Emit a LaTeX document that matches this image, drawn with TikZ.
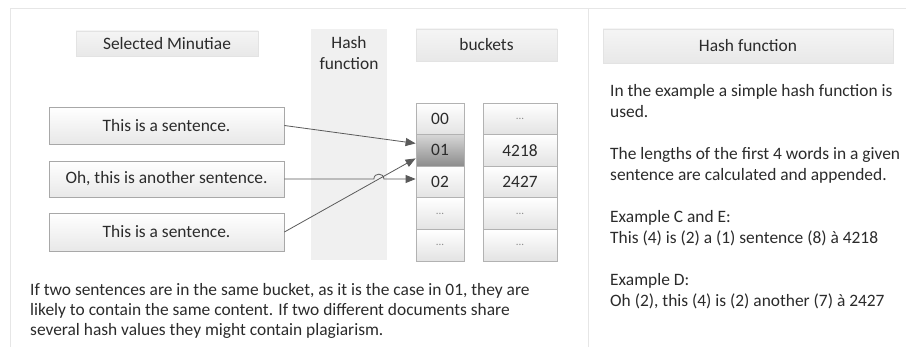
\documentclass[tikz,border=0pt]{standalone}
\usepackage{fontspec}
\setmainfont{Carlito}
\usetikzlibrary{arrows.meta,calc}

\definecolor{ink}{HTML}{2B2B2B}
\definecolor{rule}{HTML}{E6E6E6}
\definecolor{edge}{HTML}{A8A8A8}
\definecolor{wire}{HTML}{5A5A5A}

\tikzset{
  body/.style={font=\fontsize{17.4}{21}\selectfont, text=ink},
  header/.style={body, top color=white!96!black, bottom color=white!91!black,
    draw=white!89!black, line width=0.5pt, inner sep=0pt},
  sentence/.style={body, top color=white, bottom color=white!91!black,
    draw=edge, line width=0.8pt, minimum width=235pt, inner sep=0pt},
  cell/.style={body, top color=white, bottom color=white!89!black,
    draw=white!70!black, line width=0.8pt, minimum height=31.6pt, inner sep=0pt},
  hot/.style={cell, top color=white!84!black, bottom color=white!55!black},
  line/.style={body, anchor=west, text height=12pt, text depth=4pt, inner sep=0pt},
  conn/.style={draw=wire, line width=0.8pt, -{Triangle[length=10pt,width=8pt]}}
}

\newcommand{\gapdots}{\textcolor{white!55!black}{\fontsize{11}{12}\selectfont ...}}

\begin{document}
\begin{tikzpicture}[x=1pt,y=-1pt]
\useasboundingbox (0,0) rectangle (906,347);
\fill[white] (0,0) rectangle (906,347);

% page frame and column divider
\draw[rule, line width=1pt] (906,9) -- (10,9) -- (10,347);
\draw[rule, line width=1pt] (588,9) -- (588,347);

% column headers
\node[header, minimum width=182pt, minimum height=25pt] (hsel) at (167,43.5) {Selected Minutiae};
\node[header, minimum width=141pt, minimum height=32pt] (hbkt) at (486.5,45) {buckets};
\node[header, minimum width=290pt, minimum height=34pt] (hhash) at (748,46) {Hash function};

% hash function band
\node[fill=white!94!black, minimum width=76pt, minimum height=231pt, inner sep=0pt] (band) at (349,144.5) {};
\node[body, align=center, inner sep=0pt] (bandlbl) at (349,53) {Hash\\function};

% input sentences
\node[sentence, minimum height=37pt] (s1) at (166.5,125.5) {This is a sentence.};
\node[sentence, minimum height=36pt] (s2) at (166.5,179) {Oh, this is another sentence.};
\node[sentence, minimum height=38pt] (s3) at (166.5,232) {This is a sentence.};

% bucket keys
\node[cell, minimum width=48pt] (k0) at (440,118.8) {00};
\node[hot,  minimum width=48pt] (k1) at (440,150.4) {01};
\node[cell, minimum width=48pt] (k2) at (440,182.0) {02};
\node[cell, minimum width=48pt] (k3) at (440,213.6) {\gapdots};
\node[cell, minimum width=48pt] (k4) at (440,245.2) {\gapdots};

% bucket values
\node[cell, minimum width=74pt] (v0) at (520,118.8) {\gapdots};
\node[cell, minimum width=74pt] (v1) at (520,150.4) {4218};
\node[cell, minimum width=74pt] (v2) at (520,182.0) {2427};
\node[cell, minimum width=74pt] (v3) at (520,213.6) {\gapdots};
\node[cell, minimum width=74pt] (v4) at (520,245.2) {\gapdots};

% hashing connectors
\coordinate (k1hi) at ($(k1.west)+(0,-7)$);
\coordinate (k1lo) at ($(k1.west)+(0,8)$);
\coordinate (k2in) at (s2.east -| k2.west);
\draw[conn] (s1.east) -- (k1hi);
\draw[conn] (s3.east) -- (k1lo);
\coordinate (cross) at (intersection of s3.east--k1lo and s2.east--k2in);
\draw[conn] (s2.east) -- ($(cross)+(-5,0)$)
  .. controls +(0,-6.5) and +(0,-6.5) .. ($(cross)+(5,0)$) -- (k2in);

% note under the diagram
\node[line] (n1) at (30,292) {If two sentences are in the same bucket, as it is the case in 01, they are};
\node[line] (n2) at (30,312) {likely to contain the same content. If two different documents share};
\node[line] (n3) at (30,332) {several hash values they might contain plagiarism.};

% explanation of the hash function
\node[line] (r1) at (610,93)  {In the example a simple hash function is};
\node[line] (r2) at (610,114) {used.};
\node[line] (r3) at (610,156) {The lengths of the first 4 words in a given};
\node[line] (r4) at (610,177) {sentence are calculated and appended.};
\node[line] (r5) at (610,219) {Example C and E:};
\node[line] (r6) at (610,240) {This (4) is (2) a (1) sentence (8) à 4218};
\node[line] (r7) at (610,282) {Example D:};
\node[line] (r8) at (610,303) {Oh (2), this (4) is (2) another (7) à 2427};
\end{tikzpicture}
\end{document}
